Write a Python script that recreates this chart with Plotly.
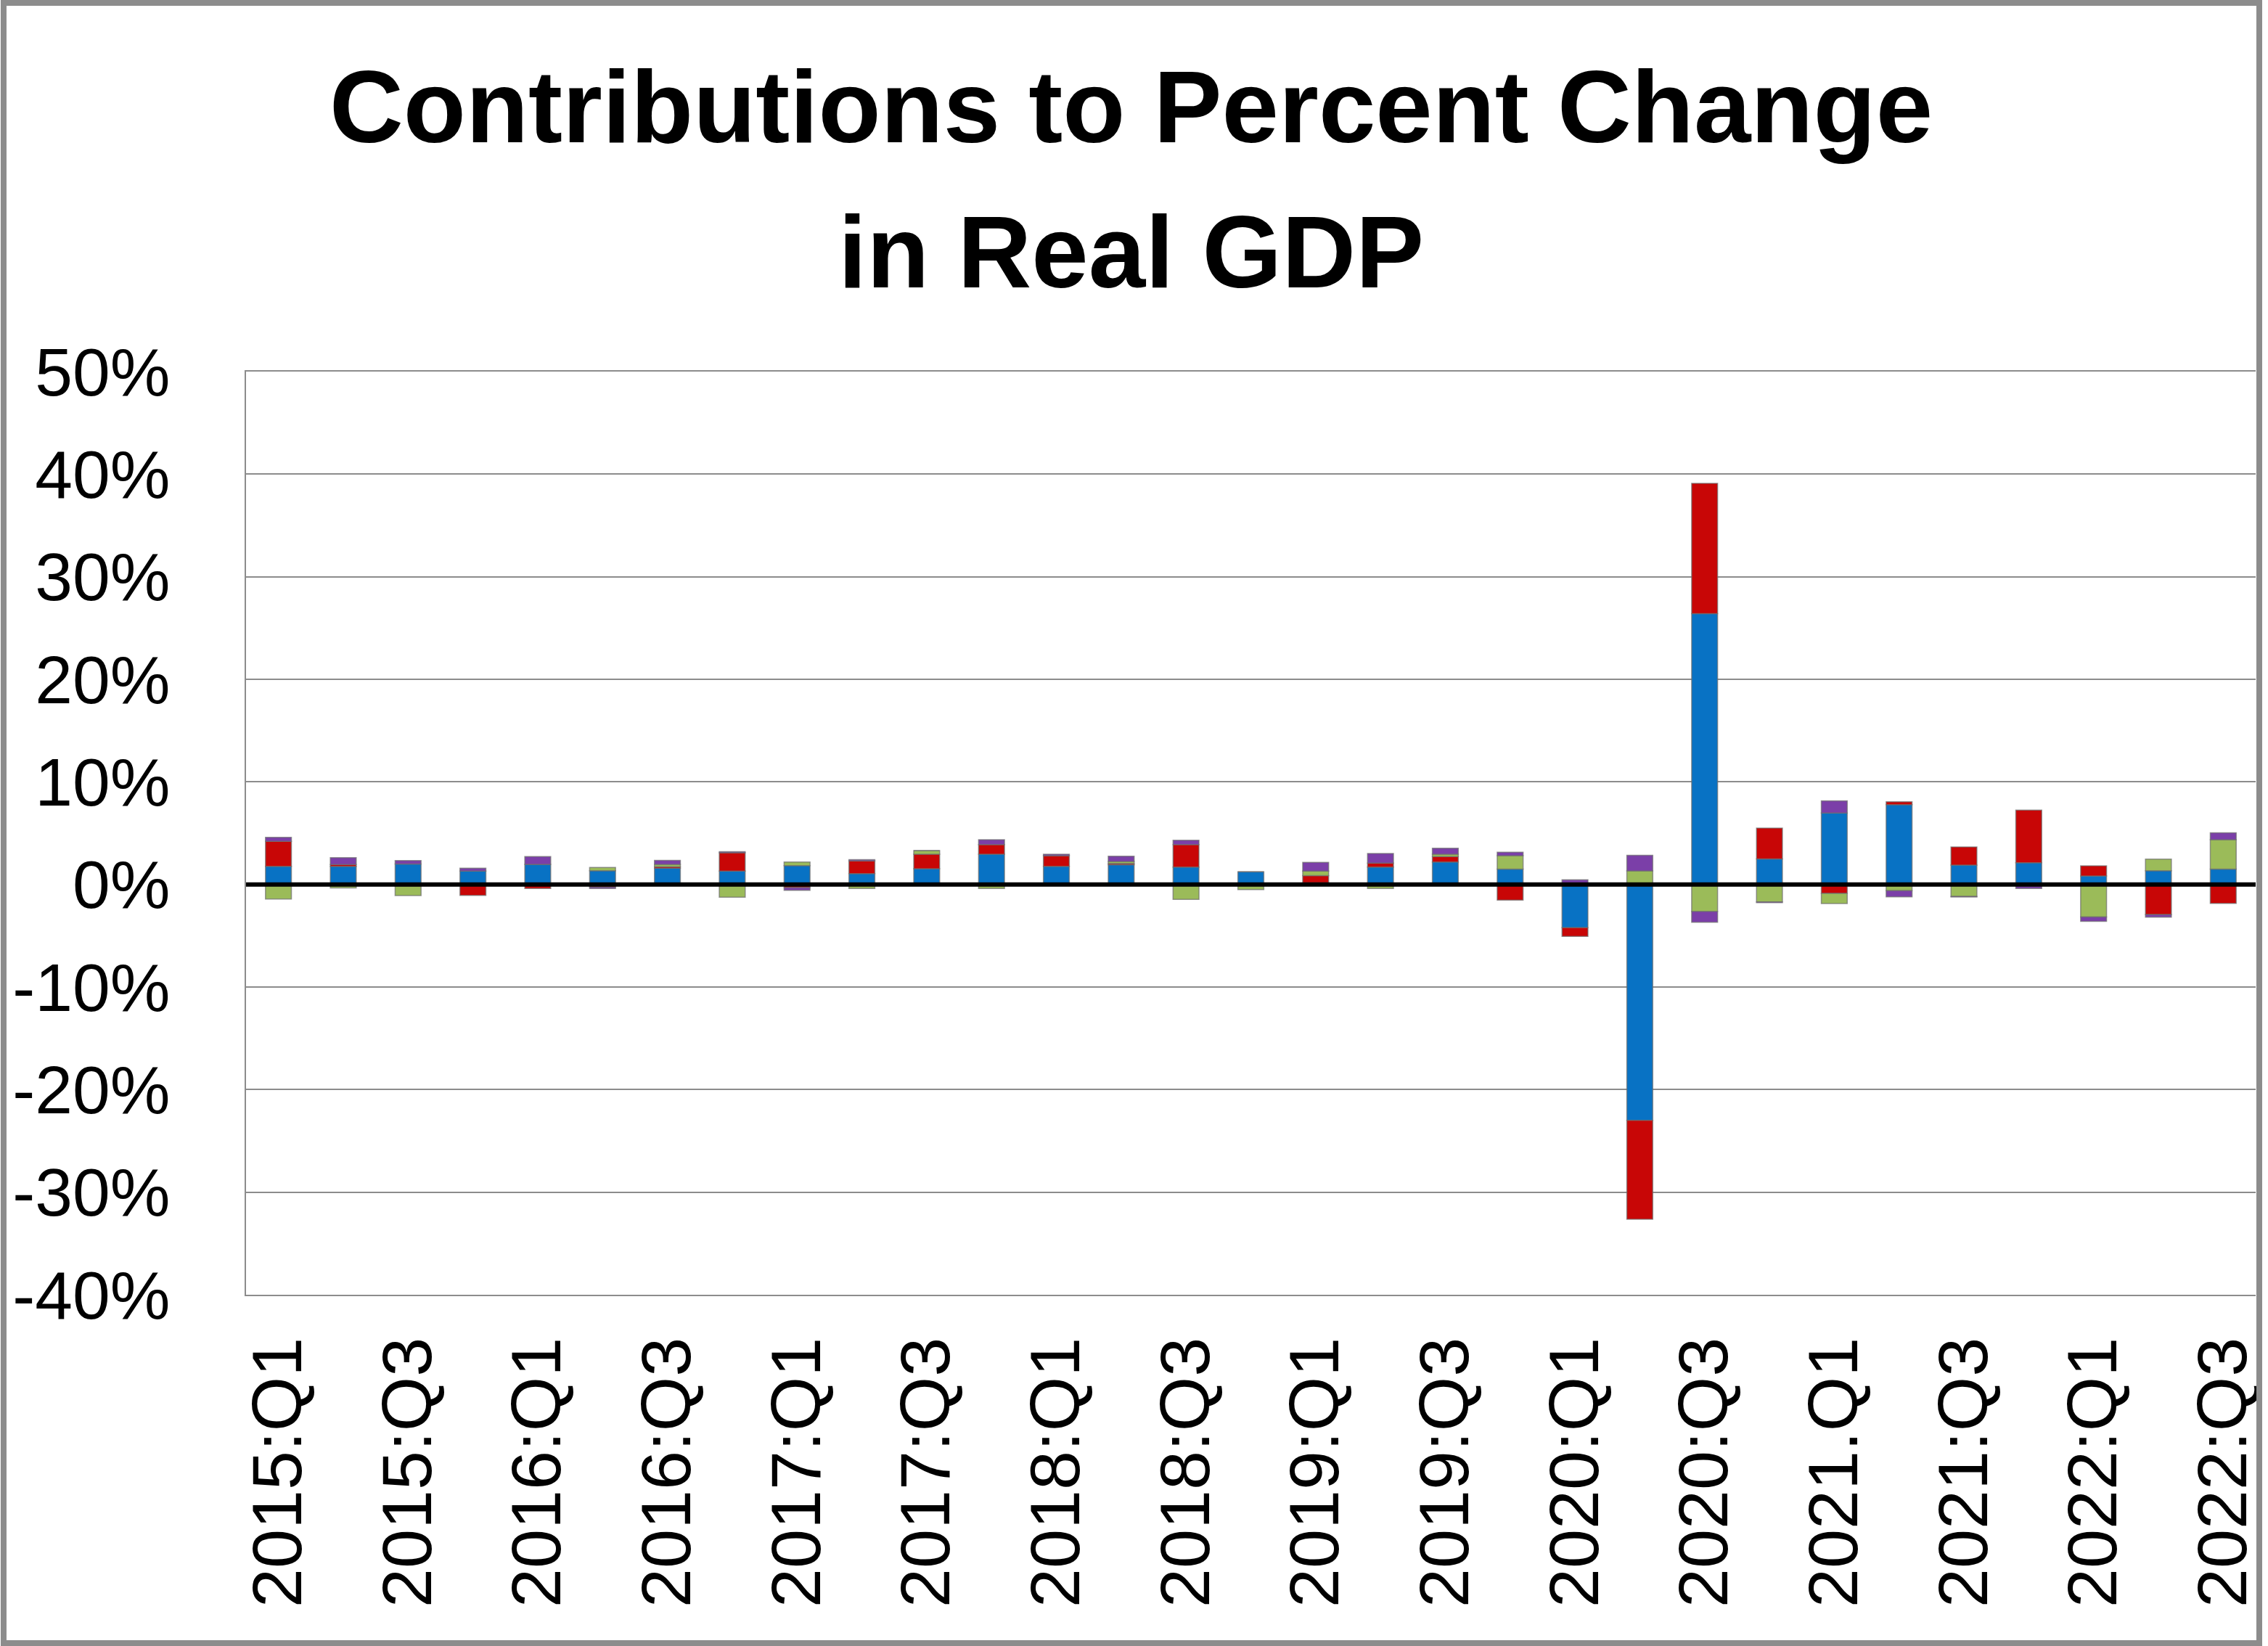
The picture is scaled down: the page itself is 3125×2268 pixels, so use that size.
import plotly.graph_objects as go

quarters = ["2015:Q1", "2015:Q2", "2015:Q3", "2015:Q4",
            "2016:Q1", "2016:Q2", "2016:Q3", "2016:Q4",
            "2017:Q1", "2017:Q2", "2017:Q3", "2017:Q4",
            "2018:Q1", "2018:Q2", "2018:Q3", "2018:Q4",
            "2019:Q1", "2019:Q2", "2019:Q3", "2019:Q4",
            "2020:Q1", "2020:Q2", "2020:Q3", "2020:Q4",
            "2021.Q1", "2021:Q2", "2021:Q3", "2021:Q4",
            "2022:Q1", "2022:Q2", "2022:Q3"]

consumption = [1.77, 1.77, 2.00, 1.30, 1.96, 1.34, 1.58, 1.30, 1.84, 1.06, 1.53, 2.95,
               1.77, 1.93, 1.70, 1.23, 0.15, 1.70, 2.19, 1.49, -4.21, -23.0, 26.4, 2.48,
               6.96, 7.78, 1.89, 2.12, 0.83, 1.34, 1.49]
investment = [2.43, 0.17, -0.14, -1.06, -0.40, -0.25, 0.14, 1.79, -0.30, 1.23, 1.42, 0.94,
              1.04, 0.12, 2.19, -0.10, 0.71, 0.38, 0.52, -1.53, -0.86, -9.65, 12.7, 3.02,
              -0.87, 0.28, 1.77, 5.12, 0.99, -2.95, -1.84]
net_exports = [-1.42, -0.35, -0.94, 0.0, 0.0, 0.31, 0.24, -1.25, 0.35, -0.40, 0.35, -0.40,
               0.0, 0.19, -1.46, -0.40, 0.44, -0.40, 0.24, 1.32, 0.0, 1.32, -2.65, -1.70,
               -1.00, -0.60, -1.18, -0.15, -3.18, 1.13, 2.88]
government = [0.40, 0.68, 0.33, 0.28, 0.75, -0.15, 0.38, 0.10, -0.28, 0.12, 0.0, 0.47,
              0.14, 0.52, 0.42, 0.0, 0.85, 0.94, 0.59, 0.33, 0.45, 1.52, -1.03, -0.07,
              1.18, -0.60, -0.05, -0.25, -0.42, -0.24, 0.66]

series_names = ["Personal consumption expenditures",
                "Gross private domestic investment",
                "Net exports of goods and services",
                "Government consumption expenditures and gross investment"]
series_colors = ["#0872C4", "#C80606", "#9BBB59", "#7B3FA8"]

y_tick_vals = [-40, -30, -20, -10, 0, 10, 20, 30, 40, 50]
y_tick_text = ["-40%", "-30%", "-20%", "-10%", "0%", "10%", "20%", "30%", "40%", "50%"]
x_tick_labels = quarters[::2]

W, H = 3125, 2268
ML, MR, MT, MB = 339, 9, 512, 484
PW = W - ML - MR
PH = H - MT - MB

fig = go.Figure()
for name, vals, col in zip(series_names, [consumption, investment, net_exports, government], series_colors):
    fig.add_trace(go.Bar(x=quarters, y=vals, name=name,
                         marker=dict(color=col, line=dict(color="rgba(110,110,110,0.7)", width=1.5))))

def px_x(p):
    return (p - ML) / PW

def px_y(p):
    return (H - MB - p) / PH

fig.update_layout(
    width=W, height=H,
    margin=dict(l=ML, r=MR, t=MT, b=MB),
    barmode="relative",
    bargap=0.6,
    showlegend=False,
    paper_bgcolor="white",
    plot_bgcolor="white",
    font=dict(family="Liberation Sans", color="black"),
    xaxis=dict(type="category", tickmode="array", tickvals=x_tick_labels, ticktext=x_tick_labels,
               tickangle=-90, tickfont=dict(size=97, family="Liberation Sans", color="black"),
               showgrid=False, showline=True, mirror=True, linecolor="#8C8C8C", linewidth=2,
               ticks="", ticklabelstandoff=18,
               range=[-0.5, len(quarters) - 0.5]),
    yaxis=dict(range=[-40, 50], tickmode="array", tickvals=y_tick_vals, ticktext=y_tick_text,
               tickfont=dict(size=93, family="Liberation Sans", color="black"),
               showgrid=True, gridcolor="#8C8C8C", gridwidth=2, zeroline=False,
               showline=True, linecolor="#8C8C8C", linewidth=2, ticks="",
               ticklabelstandoff=84),
    annotations=[
        dict(text="<b>Contributions to Percent Change</b>", xref="paper", yref="paper",
             x=px_x(1562), y=px_y(147), xanchor="center", yanchor="middle", showarrow=False,
             font=dict(size=141, family="Liberation Sans", color="black")),
        dict(text="<b>in Real GDP</b>", xref="paper", yref="paper",
             x=px_x(1562), y=px_y(347), xanchor="center", yanchor="middle", showarrow=False,
             font=dict(size=141, family="Liberation Sans", color="black")),
    ],
    shapes=[
        dict(type="line", xref="paper", yref="y", x0=0, x1=1, y0=0, y1=0,
             line=dict(color="black", width=6), layer="above"),
        dict(type="rect", xref="paper", yref="paper",
             x0=px_x(4), x1=px_x(W - 4), y0=px_y(H - 4), y1=px_y(4),
             line=dict(color="#8C8C8C", width=8), layer="above"),
    ],
)

fig.write_html("out.html", config={"displayModeBar": False},
               post_script="document.body.style.margin='0';document.body.style.overflow='hidden';")
